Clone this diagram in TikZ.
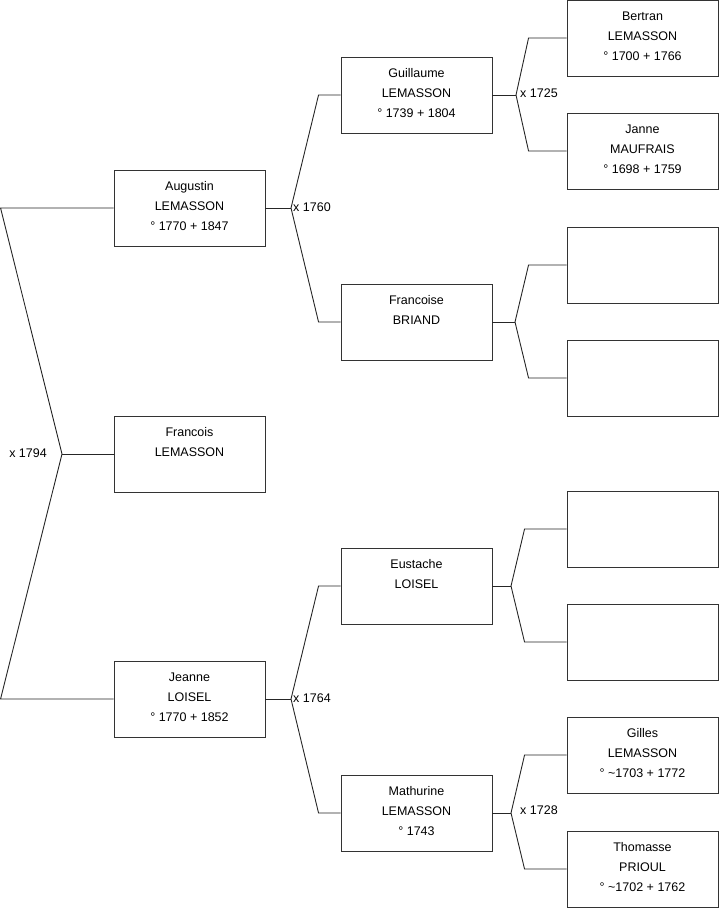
\documentclass[tikz,border=0pt]{standalone}
\usepackage{fontspec}
\setmainfont{Liberation Sans}
\newcommand{\boxtext}[1]{\parbox[c][76pt][t]{151pt}{\centering\rule{0pt}{20.5pt}#1}}
\begin{document}
\begin{tikzpicture}[x=1pt,y=-1pt,
  every node/.style={font=\fontsize{12.5}{20}\selectfont},
  pbox/.style={draw=black!80, line width=0.9pt, minimum width=151pt, minimum height=76pt, inner sep=0pt},
  conn/.style={draw=black!85, line width=0.9pt},
  lbl/.style={inner sep=0pt}]
\useasboundingbox (0,0) rectangle (719,908);
% generation 1
\node[pbox] (fra) at (189.5,454) {\boxtext{Francois\\LEMASSON}};
% generation 2
\node[pbox] (aug) at (189.5,208) {\boxtext{Augustin\\LEMASSON\\° 1770 + 1847}};
\node[pbox] (jea) at (189.5,699) {\boxtext{Jeanne\\LOISEL\\° 1770 + 1852}};
% generation 3
\node[pbox] (gui) at (416.5,95) {\boxtext{Guillaume\\LEMASSON\\° 1739 + 1804}};
\node[pbox] (frc) at (416.5,322) {\boxtext{Francoise\\BRIAND}};
\node[pbox] (eus) at (416.5,586) {\boxtext{Eustache\\LOISEL}};
\node[pbox] (mat) at (416.5,813) {\boxtext{Mathurine\\LEMASSON\\° 1743}};
% generation 4
\node[pbox] (ber) at (642.5,38) {\boxtext{Bertran\\LEMASSON\\° 1700 + 1766}};
\node[pbox] (jan) at (642.5,151) {\boxtext{Janne\\MAUFRAIS\\° 1698 + 1759}};
\node[pbox] (e1) at (642.5,265) {};
\node[pbox] (e2) at (642.5,378) {};
\node[pbox] (e3) at (642.5,529) {};
\node[pbox] (e4) at (642.5,642) {};
\node[pbox] (gil) at (642.5,755) {\boxtext{Gilles\\LEMASSON\\° \textasciitilde1703 + 1772}};
\node[pbox] (tho) at (642.5,869) {\boxtext{Thomasse\\PRIOUL\\° \textasciitilde1702 + 1762}};
% fork points
\coordinate (rf) at (62,454);
\coordinate (af) at (291,208);
\coordinate (jf) at (291,699);
\coordinate (gf) at (516,95);
\coordinate (ff) at (515,322);
\coordinate (ef) at (511,586);
\coordinate (mf) at (511,813);
% connectors
\draw[conn] (aug.west) -- ++(-113,0) -- (rf);
\draw[conn] (jea.west) -- ++(-113,0) -- (rf);
\draw[conn] (fra.west) -- (rf);
\draw[conn] (aug.east) -- (af);
\draw[conn] (gui.west) -- ++(-22,0) -- (af);
\draw[conn] (frc.west) -- ++(-22,0) -- (af);
\draw[conn] (jea.east) -- (jf);
\draw[conn] (eus.west) -- ++(-22,0) -- (jf);
\draw[conn] (mat.west) -- ++(-22,0) -- (jf);
\draw[conn] (gui.east) -- (gf);
\draw[conn] (ber.west) -- ++(-38,0) -- (gf);
\draw[conn] (jan.west) -- ++(-38,0) -- (gf);
\draw[conn] (frc.east) -- (ff);
\draw[conn] (e1.west) -- ++(-38,0) -- (ff);
\draw[conn] (e2.west) -- ++(-38,0) -- (ff);
\draw[conn] (eus.east) -- (ef);
\draw[conn] (e3.west) -- ++(-42,0) -- (ef);
\draw[conn] (e4.west) -- ++(-42,0) -- (ef);
\draw[conn] (mat.east) -- (mf);
\draw[conn] (gil.west) -- ++(-42,0) -- (mf);
\draw[conn] (tho.west) -- ++(-42,0) -- (mf);
% marriage labels
\node[lbl, anchor=east] (m1794) at (47,453) {x 1794};
\node[lbl, anchor=west] (m1760) at (293,207) {x 1760};
\node[lbl, anchor=west] (m1764) at (293,698) {x 1764};
\node[lbl, anchor=west] (m1725) at (520,93) {x 1725};
\node[lbl, anchor=west] (m1728) at (520,810) {x 1728};
\end{tikzpicture}
\end{document}
